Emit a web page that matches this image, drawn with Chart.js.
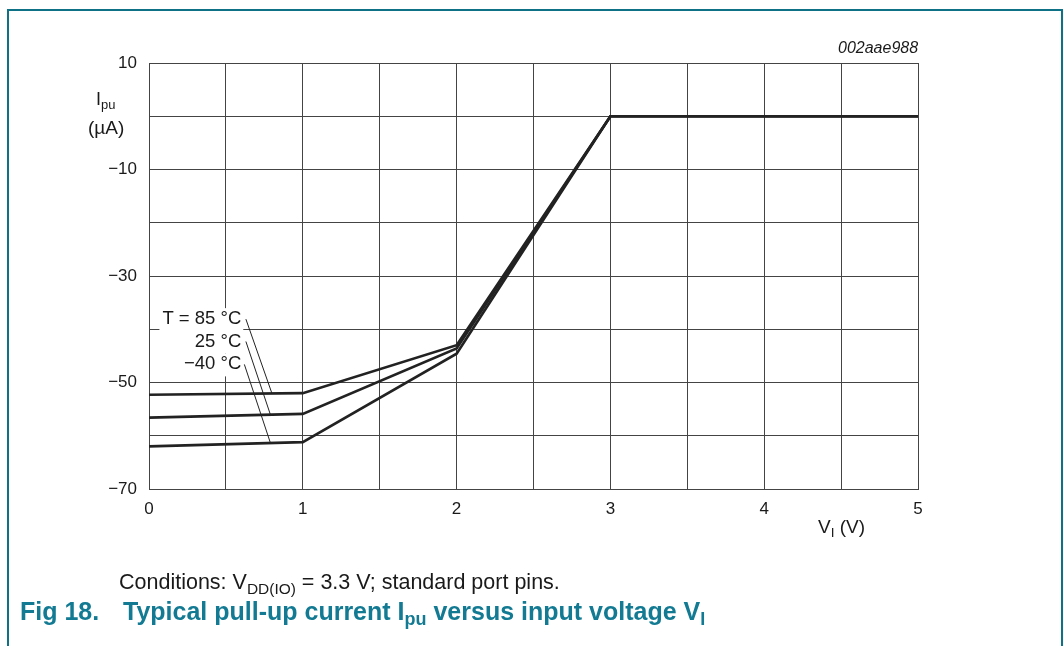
<!DOCTYPE html>
<html>
<head>
<meta charset="utf-8">
<script src="https://cdn.jsdelivr.net/npm/chart.js@4"></script>
<style>
  html, body { margin: 0; padding: 0; background: #fff; }
  body { width: 1063px; height: 646px; position: relative; overflow: hidden; font-family: "Liberation Sans", Arial, sans-serif; }
  #frame { position: absolute; left: 7px; top: 9px; width: 1052px; height: 660px; border: 2px solid #0e7186; border-bottom: none; }
  #wrap { position: absolute; left: 0; top: 0; width: 1063px; height: 646px; }
  .txt { position: absolute; color: #1a1a1a; white-space: nowrap; font-size: 17px; line-height: 1; }
  sub { font-size: 0.72em; vertical-align: -0.3em; line-height: 0; }
  #title { color: #127a92; font-weight: bold; font-size: 25px; }
  #title .num { display: inline-block; width: 103px; }
</style>
</head>
<body>
<div id="frame"></div>
<div id="wrap"><canvas id="chart" width="1063" height="646"></canvas></div>
<div class="txt" style="left:96px; top:90px; font-size:18px;">I<sub>pu</sub></div>
<div class="txt" style="left:88px; top:118px; font-size:19px;">(µA)</div>
<div class="txt" style="left:818px; top:517px; font-size:19px;">V<sub>I</sub> (V)</div>
<div class="txt" style="left:838px; top:40px; font-style:italic; font-size:16px;">002aae988</div>
<div class="txt" style="left:119px; top:572px; font-size:21.5px;">Conditions: V<sub>DD(IO)</sub> = 3.3 V; standard port pins.</div>
<div class="txt" id="title" style="left:20px; top:599px;"><span class="num">Fig 18.</span>Typical pull-up current I<sub>pu</sub> versus input voltage V<sub>I</sub></div>
<script>
// input voltage V_I (V)
const voltage = [0, 1, 2, 3, 4, 5];
// pull-up current I_pu (µA) per temperature
const ipu85 = [-52.3, -52.0, -43.0, 0, 0, 0];
const ipu25 = [-56.6, -55.9, -43.6, 0, 0, 0];
const ipuMinus40 = [-62.0, -61.2, -44.6, 0, 0, 0];

// curve labels and their leader lines: label -> point on curve
const tempLabels = ['T = 85 °C', '25 °C', '\u221240 °C'];
const labelX = [0.60, 0.60, 0.60];
const labelY = [-38.1, -42.3, -46.6];
const leaderStartX = [0.63, 0.63, 0.62];
const leaderEndX = [0.80, 0.79, 0.79];
const leaderEndY = [-52.1, -56.1, -61.4];

const pts = arr => voltage.map((v, i) => ({ x: v, y: arr[i] }));
const curve = arr => ({ data: pts(arr), borderColor: '#222', borderWidth: 2.6, pointRadius: 0, tension: 0, order: 1 });
const leader = i => ({
    data: [{ x: leaderStartX[i], y: labelY[i] }, { x: leaderEndX[i], y: leaderEndY[i] }],
    borderColor: '#222', borderWidth: 1, pointRadius: 0, tension: 0, order: 2
});

const labelPlugin = {
    id: 'tempLabels',
    beforeDatasetsDraw(c) {
        const ctx = c.ctx, xs = c.scales.x, ys = c.scales.y;
        ctx.save();
        ctx.font = '18.5px "Liberation Sans", Arial, sans-serif';
        ctx.textAlign = 'right';
        ctx.textBaseline = 'middle';
        tempLabels.forEach((t, i) => {
            const px = xs.getPixelForValue(labelX[i]), py = ys.getPixelForValue(labelY[i]);
            const w = ctx.measureText(t).width;
            ctx.fillStyle = '#fff';
            ctx.fillRect(px - w - 3, py - 11, w + 5, 23);
        });
        tempLabels.forEach((t, i) => {
            ctx.fillStyle = '#1a1a1a';
            ctx.fillText(t, xs.getPixelForValue(labelX[i]), ys.getPixelForValue(labelY[i]));
        });
        ctx.restore();
    }
};

new Chart(document.getElementById('chart'), {
    type: 'line',
    data: { datasets: [curve(ipu85), curve(ipu25), curve(ipuMinus40), leader(0), leader(1), leader(2)] },
    options: {
        responsive: false,
        animation: false,
        layout: { padding: { left: 0, top: 63, right: 145, bottom: 127 } },
        plugins: { legend: { display: false }, tooltip: { enabled: false } },
        scales: {
            x: {
                type: 'linear', min: 0, max: 5,
                afterFit: s => { s.height = 30; },
                ticks: {
                    stepSize: 0.5, padding: 10, color: '#1a1a1a', maxRotation: 0,
                    font: { family: '"Liberation Sans", Arial, sans-serif', size: 17 },
                    callback: v => Number.isInteger(v) ? String(v) : ''
                },
                grid: { color: '#444', lineWidth: 1, drawTicks: false },
                border: { color: '#444', width: 1 }
            },
            y: {
                min: -70, max: 10,
                afterFit: s => { s.width = 149; },
                ticks: {
                    stepSize: 10, padding: 12, color: '#1a1a1a',
                    font: { family: '"Liberation Sans", Arial, sans-serif', size: 17 },
                    callback: v => ((v - 10) % 20 === 0) ? String(v).replace('-', '\u2212') : ''
                },
                grid: { color: '#444', lineWidth: 1, drawTicks: false },
                border: { color: '#444', width: 1 }
            }
        }
    },
    plugins: [labelPlugin]
});
</script>
</body>
</html>
